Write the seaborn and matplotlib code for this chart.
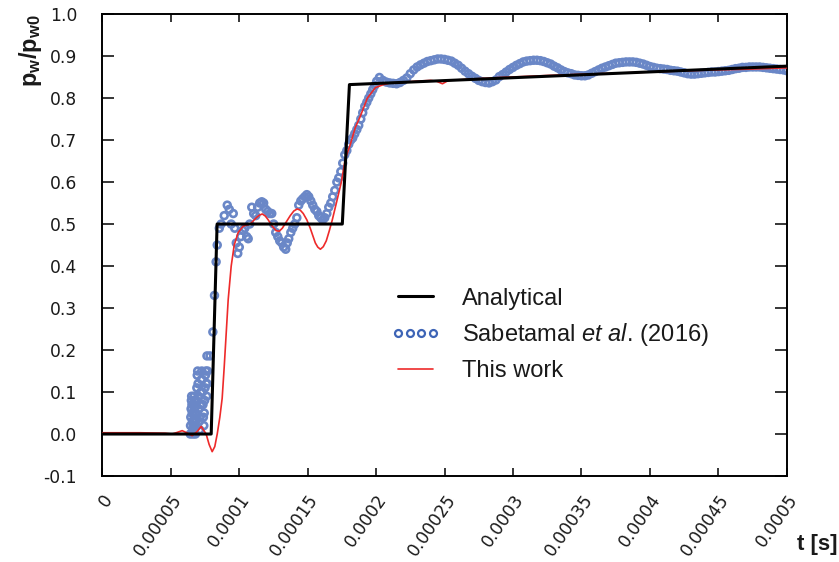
import numpy as np
import pandas as pd
import matplotlib
matplotlib.use("Agg")
import matplotlib.pyplot as plt
from matplotlib.lines import Line2D
import seaborn as sns

# ---------------- data (time in microseconds, converted to seconds below) ----------------
analytical_t_us = [0.0, 79.7, 84.0, 175.4, 180.6, 500.0]
analytical_y = [0.0, 0.0, 0.5, 0.5, 0.832, 0.876]

work_t_us = [0.0, 27.8, 46.1, 51.2, 55.0, 58.5, 62.5, 65.8, 69.5, 72.4, 76.0, 78.2,
             80.4, 82.3, 84.1, 86.0, 87.7, 89.2, 92.1, 94.3, 96.5, 99.4, 103.1,
             108.2, 112.6, 114.8, 117.0, 119.2, 121.3, 124.2, 127.2, 129.4, 131.6,
             134.5, 137.4, 140.0, 142.5, 144.7, 146.9, 149.5, 152.0, 155.7, 157.5,
             159.4, 161.5, 163.7, 166.0, 168.1, 171.8, 174.7, 177.6, 181.3, 184.9,
             188.6, 193.7, 199.6, 205.4, 210.5, 217.8, 228.8, 239.8, 244.2, 248.5,
             252.9, 269.0, 290.9, 327.5, 364.0, 400.6, 437.1, 473.7, 500.0]
work_y = [0.003, 0.003, 0.002, 0.0, 0.004, 0.008, 0.002, -0.004, 0.006, 0.018, 0.0,
          -0.025, -0.042, -0.03, 0.0, 0.04, 0.085, 0.16, 0.32, 0.40, 0.45, 0.48, 0.495,
          0.50, 0.515, 0.521, 0.524, 0.519, 0.51, 0.495, 0.484, 0.483, 0.49,
          0.505, 0.52, 0.531, 0.536, 0.533, 0.525, 0.51, 0.49, 0.455, 0.445,
          0.44, 0.446, 0.46, 0.485, 0.51, 0.56, 0.60, 0.655, 0.69, 0.73,
          0.757, 0.80, 0.825, 0.832, 0.836, 0.837, 0.840, 0.842, 0.840, 0.834,
          0.842, 0.845, 0.849, 0.854, 0.858, 0.862, 0.866, 0.869, 0.872]

# Sabetamal et al. (2016): early spike
sab_spike_t_us = [64.4, 64.6, 64.8, 65.0, 65.2, 65.4, 65.6, 65.8, 66.0, 66.2, 66.4,
                  66.6, 66.8, 67.0, 67.2, 67.4, 67.6, 67.8, 68.0, 68.2, 68.4,
                  68.6, 68.9, 69.2, 69.5, 69.8, 70.1, 70.4, 70.7, 71.0, 71.3, 71.6,
                  71.9, 72.2, 72.5, 72.8, 73.1, 73.4, 73.7, 74.0, 74.3, 74.6, 74.9,
                  75.2, 75.5, 75.8, 76.1, 76.4, 76.7, 77.0,
                  76.6, 78.8, 80.9, 82.1, 83.3]
sab_spike_y = [0.0, 0.02, 0.04, 0.06, 0.08, 0.09, 0.07, 0.05, 0.03, 0.01, 0.0,
               0.02, 0.045, 0.07, 0.09, 0.08, 0.06, 0.035, 0.015, 0.0, 0.03,
               0.05, 0.08, 0.11, 0.14, 0.15, 0.12, 0.09, 0.06, 0.03, 0.01, 0.04,
               0.07, 0.10, 0.13, 0.15, 0.13, 0.10, 0.07, 0.04, 0.02, 0.05, 0.08,
               0.11, 0.14, 0.15, 0.12, 0.09, 0.12, 0.15,
               0.186, 0.186, 0.243, 0.33, 0.41]

# Sabetamal et al. (2016): first plateau and second rise
sab_mid_t_us = [84.1, 85.6, 87.0, 89.2, 91.4, 92.9, 94.3, 95.8, 96.9, 98.0, 99.1,
                100.2, 101.3, 102.7, 104.2, 105.6, 106.7, 107.8, 109.3, 110.7, 112.2,
                113.6, 115.1, 116.6, 118.0, 119.5, 121.0, 122.4, 123.9, 125.3, 126.8,
                128.3, 129.7, 131.2, 132.6, 134.1, 135.2, 136.3, 137.8, 139.2, 140.7,
                142.2, 143.6, 145.1, 146.5, 148.0, 149.5, 150.9, 152.4, 153.8, 155.3,
                156.8, 158.2, 159.7, 161.1, 162.6, 164.1, 165.5, 167.0, 168.4, 169.9,
                171.4, 172.8, 174.3, 175.7, 177.2, 178.7, 180.1, 181.6, 183.0, 184.5,
                186.0, 187.4, 188.9, 190.3, 191.8, 193.3, 194.7, 196.2, 197.6, 199.1,
                200.5]
sab_mid_y = [0.45, 0.49, 0.50, 0.52, 0.545, 0.535, 0.50, 0.525, 0.49, 0.455, 0.43,
             0.445, 0.47, 0.485, 0.49, 0.47, 0.465, 0.50, 0.54, 0.525, 0.52,
             0.54, 0.55, 0.553, 0.55, 0.535, 0.53, 0.525, 0.525, 0.50, 0.48,
             0.47, 0.46, 0.455, 0.445, 0.44, 0.455, 0.465, 0.48, 0.49, 0.50,
             0.515, 0.545, 0.555, 0.56, 0.565, 0.57, 0.565, 0.555, 0.545, 0.535,
             0.53, 0.52, 0.515, 0.51, 0.515, 0.525, 0.54, 0.55, 0.565, 0.58,
             0.60, 0.61, 0.625, 0.645, 0.665, 0.675, 0.69, 0.70, 0.705, 0.715,
             0.725, 0.735, 0.75, 0.765, 0.78, 0.79, 0.80, 0.81, 0.82, 0.83,
             0.84]

# Sabetamal et al. (2016): oscillating tail
sab_tail_t_us = [202.5, 205.0, 207.5, 210.0, 212.5, 215.0, 217.5, 220.0, 222.5, 225.0,
                 227.5, 230.0, 232.5, 235.0, 237.5, 240.0, 242.5, 245.0, 247.5, 250.0,
                 252.5, 255.0, 257.5, 260.0, 262.5, 265.0, 267.5, 270.0, 272.5, 275.0,
                 277.5, 280.0, 282.5, 285.0, 287.5, 290.0, 292.5, 295.0, 297.5, 300.0,
                 302.5, 305.0, 307.5, 310.0, 312.5, 315.0, 317.5, 320.0, 322.5, 325.0,
                 327.5, 330.0, 332.5, 335.0, 337.5, 340.0, 342.5, 345.0, 347.5, 350.0,
                 352.5, 355.0, 357.5, 360.0, 362.5, 365.0, 367.5, 370.0, 372.5, 375.0,
                 377.5, 380.0, 382.5, 385.0, 387.5, 390.0, 392.5, 395.0, 397.5, 400.0,
                 402.5, 405.0, 407.5, 410.0, 412.5, 415.0, 417.5, 420.0, 422.5, 425.0,
                 427.5, 430.0, 432.5, 435.0, 437.5, 440.0, 442.5, 445.0, 447.5, 450.0,
                 452.5, 455.0, 457.5, 460.0, 462.5, 465.0, 467.5, 470.0, 472.5, 475.0,
                 477.5, 480.0, 482.5, 485.0, 487.5, 490.0, 492.5, 495.0, 497.5, 500.0]
sab_tail_y = [0.849, 0.842, 0.838, 0.836, 0.835, 0.834, 0.837, 0.842, 0.848, 0.858,
              0.867, 0.874, 0.879, 0.883, 0.887, 0.889, 0.891, 0.893, 0.893, 0.892,
              0.890, 0.888, 0.883, 0.878, 0.871, 0.864, 0.858, 0.852, 0.847, 0.842,
              0.839, 0.837, 0.836, 0.839, 0.843, 0.851, 0.856, 0.862, 0.868, 0.873,
              0.878, 0.882, 0.886, 0.888, 0.889, 0.890, 0.890, 0.889, 0.887, 0.884,
              0.881, 0.876, 0.872, 0.867, 0.863, 0.860, 0.858, 0.855, 0.854, 0.853,
              0.853, 0.855, 0.859, 0.863, 0.867, 0.871, 0.874, 0.877, 0.880, 0.883,
              0.884, 0.885, 0.886, 0.886, 0.886, 0.885, 0.883, 0.881, 0.878, 0.875,
              0.873, 0.871, 0.870, 0.869, 0.868, 0.866, 0.865, 0.864, 0.862, 0.860,
              0.858, 0.857, 0.857, 0.858, 0.859, 0.860, 0.861, 0.862, 0.862, 0.863,
              0.864, 0.865, 0.866, 0.868, 0.870, 0.871, 0.873, 0.873, 0.874, 0.874,
              0.874, 0.874, 0.873, 0.872, 0.871, 0.870, 0.869, 0.868, 0.867, 0.865]

x_ticks = [0, 0.00005, 0.0001, 0.00015, 0.0002, 0.00025, 0.0003, 0.00035, 0.0004, 0.00045, 0.0005]
x_tick_labels = ["0", "0.00005", "0.0001", "0.00015", "0.0002", "0.00025", "0.0003",
                 "0.00035", "0.0004", "0.00045", "0.0005"]
y_ticks = [-0.1, 0.0, 0.1, 0.2, 0.3, 0.4, 0.5, 0.6, 0.7, 0.8, 0.9, 1.0]
y_tick_labels = ["-0.1", "0.0", "0.1", "0.2", "0.3", "0.4", "0.5", "0.6", "0.7", "0.8", "0.9", "1.0"]

labels = ["Analytical",
          r"$\mathrm{Sabetamal}\ \mathit{et\ al.}\!\ \mathrm{(2016)}$",
          "This work"]

# ---------------- styling ----------------
sns.set_style("ticks")
plt.rcParams["font.family"] = ["Liberation Sans", "DejaVu Sans"]
plt.rcParams["mathtext.fontset"] = "custom"
plt.rcParams["mathtext.rm"] = "Liberation Sans"
plt.rcParams["mathtext.it"] = "Liberation Sans:italic"
plt.rcParams["mathtext.bf"] = "Liberation Sans:bold"

BLUE = "#6a87c7"
BLUE_LEG = "#3d64b6"
RED = "#ee2a2a"
BLACK = "#000000"
TXT = "#1a1a1a"

to_s = 1e-6
df_an = pd.DataFrame({"t": np.array(analytical_t_us) * to_s, "y": analytical_y})
df_wk = pd.DataFrame({"t": np.array(work_t_us) * to_s, "y": work_y})
df_sab = pd.DataFrame({
    "t": np.concatenate([sab_spike_t_us, sab_mid_t_us, sab_tail_t_us]) * to_s,
    "y": np.concatenate([sab_spike_y, sab_mid_y, sab_tail_y]),
})

fig = plt.figure(figsize=(8.39, 5.62), dpi=100)
ax = fig.add_axes([0.1216, 0.153, 0.8164, 0.822])

sns.scatterplot(data=df_sab, x="t", y="y", ax=ax, marker="o", s=24,
                facecolor="none", edgecolor=BLUE, linewidth=1.9, zorder=2, legend=False)
sns.lineplot(data=df_wk, x="t", y="y", ax=ax, color=RED, linewidth=1.2,
             sort=False, estimator=None, zorder=3, legend=False)
sns.lineplot(data=df_an, x="t", y="y", ax=ax, color=BLACK, linewidth=2.2,
             sort=False, estimator=None, zorder=4, legend=False)

ax.set_xlim(0, 0.0005)
ax.set_ylim(-0.1, 1.0)
ax.set_xticks(x_ticks)
ax.set_xticklabels(x_tick_labels, rotation=55, ha="right", rotation_mode="anchor")
ax.set_yticks(y_ticks)
ax.set_yticklabels(y_tick_labels)
ax.tick_params(axis="both", direction="in", top=True, right=True, width=1.1,
               labelsize=12.3, colors="black", labelcolor=TXT)
ax.tick_params(axis="y", length=8.5, pad=18)
ax.tick_params(axis="x", length=6, pad=11)
for lab in ax.get_xticklabels() + ax.get_yticklabels():
    lab.set_fontfamily("DejaVu Sans")
for sp in ax.spines.values():
    sp.set_visible(True)
    sp.set_linewidth(1.4)
    sp.set_color("black")

ax.set_xlabel("")
ax.set_ylabel("")
fig.text(0.036, 0.975, r"$\mathbf{p_w/p_{w0}}$", rotation=90, ha="center", va="top",
         fontsize=17, color=TXT)
fig.text(0.998, 0.012, "t [s]", ha="right", va="bottom", fontsize=16,
         fontweight="bold", color=TXT)

handles = [
    Line2D([], [], color=BLACK, linewidth=2.2),
    Line2D([], [], color=BLUE_LEG, linestyle="", marker="o", markersize=5,
           markerfacecolor="none", markeredgewidth=1.6),
    Line2D([], [], color=RED, linewidth=1.2),
]
leg = ax.legend(handles, labels, loc="upper left", bbox_to_anchor=(0.422, 0.408),
                frameon=False, fontsize=17, handlelength=2.07, handletextpad=0.93,
                labelspacing=0.5, numpoints=4, borderpad=0, borderaxespad=0)
for t in leg.get_texts():
    t.set_color(TXT)

fig.savefig("out.png", dpi=100)
